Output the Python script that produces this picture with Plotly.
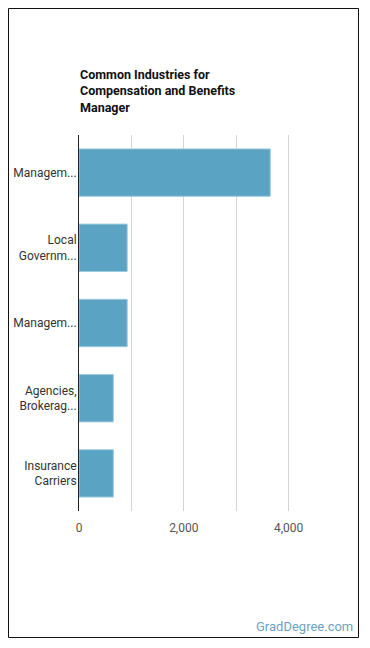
import plotly.graph_objects as go

categories = ["Managem...", "Local<br>Governm...", "Managem...", "Agencies,<br>Brokerag...", "Insurance<br>Carriers"]
values = [3650, 920, 920, 655, 655]
tick_vals = [0, 1000, 2000, 3000, 4000]
tick_text = ["0", "", "2,000", "", "4,000"]

L, R, T, B = 79, 341, 135, 511
W, H = 370, 648
pw, ph = R - L, B - T

def px(x):
    return (x - L) / pw

def py(y):
    return (B - y) / ph

ids = list(range(len(categories)))

fig = go.Figure(go.Bar(
    x=values, y=ids, orientation="h",
    marker=dict(color="#5ba3c3", line=dict(color="#9ccbe0", width=1)),
    hoverinfo="x",
))

fig.update_layout(
    width=W, height=H,
    margin=dict(l=L, r=W - R, t=T, b=H - B),
    paper_bgcolor="white", plot_bgcolor="white",
    bargap=0.37,
    showlegend=False,
    font=dict(family="Roboto, Arial, sans-serif", size=12, color="#333"),
    xaxis=dict(range=[0, 5000], tickvals=tick_vals, ticktext=tick_text,
               showgrid=True, gridcolor="#d4d4d4", gridwidth=1,
               zeroline=False, showline=False, ticks="", ticklabelstandoff=8,
               tickfont=dict(size=12, color="#555"), fixedrange=True),
    yaxis=dict(tickvals=ids, ticktext=categories, autorange="reversed",
               range=[len(categories) - 0.5, -0.5],
               showgrid=False, zeroline=False, showline=True, linecolor="#222", linewidth=1,
               ticks="", ticklabelstandoff=-1, tickfont=dict(size=12, color="#333"), fixedrange=True),
    shapes=[dict(type="rect", xref="paper", yref="paper",
                 x0=px(8.5), x1=px(358.5), y0=py(637.5), y1=py(8.5),
                 line=dict(color="#111", width=1), fillcolor="rgba(0,0,0,0)")],
    annotations=[
        dict(text="<b>Common Industries for<br>Compensation and Benefits<br>Manager</b>",
             xref="paper", yref="paper", x=px(77.5), y=py(65), xanchor="left", yanchor="top",
             align="left", showarrow=False,
             font=dict(family="Roboto, Arial, sans-serif", size=12.5, color="#111")),
        dict(text="GradDegree.com", xref="paper", yref="paper", x=px(355), y=py(626),
             xanchor="right", yanchor="middle", showarrow=False,
             font=dict(family="Roboto, Arial, sans-serif", size=13, color="#6f9fbd")),
    ],
)

fig.write_html("out.html")
